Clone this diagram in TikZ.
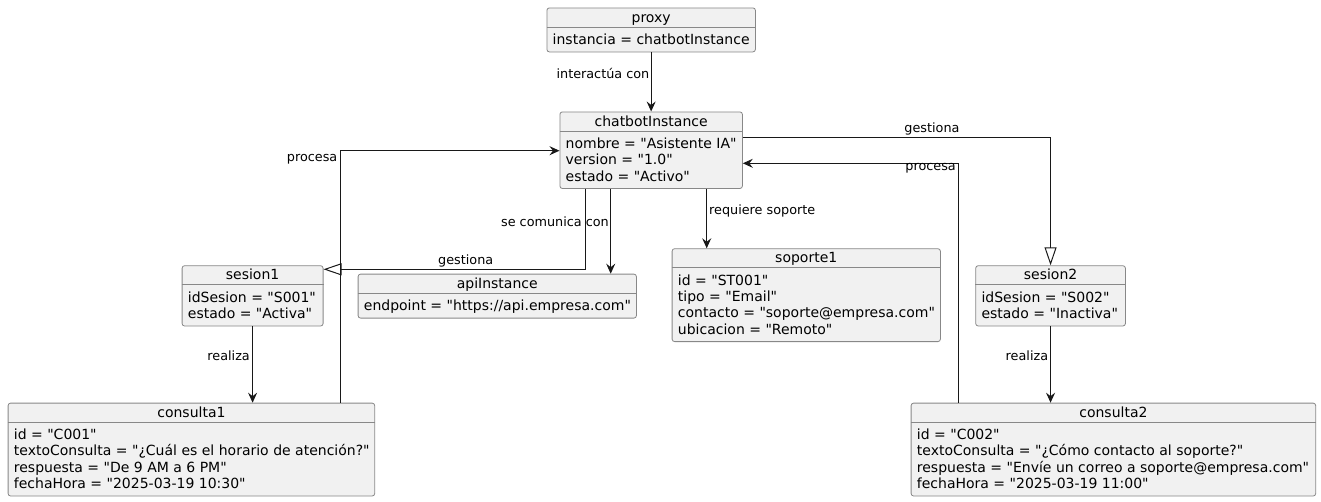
\documentclass[tikz,border=0pt]{standalone}
\usepackage{fontspec}
\setmainfont{DejaVu Sans}[Ligatures=TeXOff]
\usetikzlibrary{arrows.meta}
\definecolor{objfill}{HTML}{F1F1F1}
\definecolor{objedge}{HTML}{888888}
\definecolor{linkcol}{HTML}{181818}
\tikzset{
  objbox/.style={draw=objedge, fill=objfill, line width=0.8pt, rounded corners=2.5pt, inner sep=0pt, rectangle},
  objline/.style={draw=objedge, line width=0.8pt},
  titletext/.style={inner sep=0pt, font={\fontsize{14}{16.3}\selectfont}},
  attrtext/.style={inner sep=0pt, align=left, font={\fontsize{14}{16.3}\selectfont}},
  lbl/.style={inner sep=0pt, font={\fontsize{12.8}{15}\selectfont}},
  link/.style={draw=linkcol, line width=1pt},
  arr/.style={link, -{Stealth[length=10pt,width=9pt,inset=3.5pt]}},
  inh/.style={link, -{Triangle[open,length=18pt,width=12pt]}},
}
\newcommand{\umlobj}[7]{%
  \pgfmathsetmacro\obh{19.5+24.5+(#5-1)*16.3}%
  \node[objbox, minimum width={(#3-#2)*1pt}, minimum height={\obh pt}, anchor=north west] (#1) at (#2,#4) {};
  \draw[objline] ([yshift=-19.5pt]#1.north west) -- ([yshift=-19.5pt]#1.north east);
  \node[titletext, anchor=base] (#1-t) at ([yshift=-14.5pt]#1.north) {#6};
  \node[attrtext, anchor=north west] (#1-a) at ([xshift=6pt,yshift=-25.3pt]#1.north west) {\strut #7};
}
\begin{document}
\begin{tikzpicture}[x=1pt,y=-1pt]
\useasboundingbox (0,0) rectangle (1321,501);

\umlobj{proxy}{546.5}{755}{7.5}{1}{proxy}{instancia = chatbotInstance}
\umlobj{chatbot}{559.5}{742}{111.5}{3}{chatbotInstance}{nombre = "Asistente IA"\\version = "1.0"\\estado = "Activo"}
\umlobj{sesion1}{181.7}{322.7}{265.3}{2}{sesion1}{idSesion = "S001"\\estado = "Activa"}
\umlobj{api}{357.7}{636}{273.7}{1}{apiInstance}{endpoint = "https://api.empresa.com"}
\umlobj{soporte}{671.7}{940}{248.3}{4}{soporte1}{id = "ST001"\\tipo = "Email"\\contacto = "soporte@empresa.com"\\ubicacion = "Remoto"}
\umlobj{sesion2}{975.3}{1125}{265.3}{2}{sesion2}{idSesion = "S002"\\estado = "Inactiva"}
\umlobj{consulta1}{7.7}{374.3}{402.7}{4}{consulta1}{id = "C001"\\textoConsulta = "¿Cuál es el horario de atención?"\\respuesta = "De 9 AM a 6 PM"\\fechaHora = "2025-03-19 10:30"}
\umlobj{consulta2}{910.7}{1315.3}{402.7}{4}{consulta2}{id = "C002"\\textoConsulta = "¿Cómo contacto al soporte?"\\respuesta = "Envíe un correo a soporte@empresa.com"\\fechaHora = "2025-03-19 11:00"}

% connectors
\draw[arr] (proxy.south) -- (chatbot.north);
\draw[arr] ([xshift=332.3pt]consulta1.north west) |- ([yshift=-39.2pt]chatbot.north west);
\draw[arr] ([xshift=47.6pt]consulta2.north west) |- ([yshift=-51.8pt]chatbot.north east);
\draw[inh] ([xshift=26.2pt]chatbot.south west) |- ([yshift=-4pt]sesion1.north east);
\draw[arr] ([xshift=51.2pt]chatbot.south west) -- ([xshift=253pt]api.north west);
\draw[arr] ([xshift=147.2pt]chatbot.south west) -- ([xshift=35pt]soporte.north west);
\draw[inh] ([yshift=-25.8pt]chatbot.north east) -| (sesion2.north);
\draw[arr] (sesion1.south) -- (sesion1.south |- consulta1.north);
\draw[arr] (sesion2.south) -- (sesion2.south |- consulta2.north);

% labels
\node[lbl, anchor=base east] (l-inter) at (649.5,78) {interactúa con};
\node[lbl, anchor=base east] (l-proc1) at (337.5,161.5) {procesa};
\node[lbl, anchor=base east] (l-proc2) at (956,170.5) {procesa};
\node[lbl, anchor=base] (l-gest2) at (932,132.5) {gestiona};
\node[lbl, anchor=base west] (l-req) at (709,214.3) {requiere soporte};
\node[lbl, anchor=base east] (l-com) at (609,226.7) {se comunica con};
\node[lbl, anchor=base] (l-gest1) at (465.7,264.5) {gestiona};
\node[lbl, anchor=base east] (l-real1) at (250,360) {realiza};
\node[lbl, anchor=base east] (l-real2) at (1048.3,360) {realiza};
\end{tikzpicture}
\end{document}
